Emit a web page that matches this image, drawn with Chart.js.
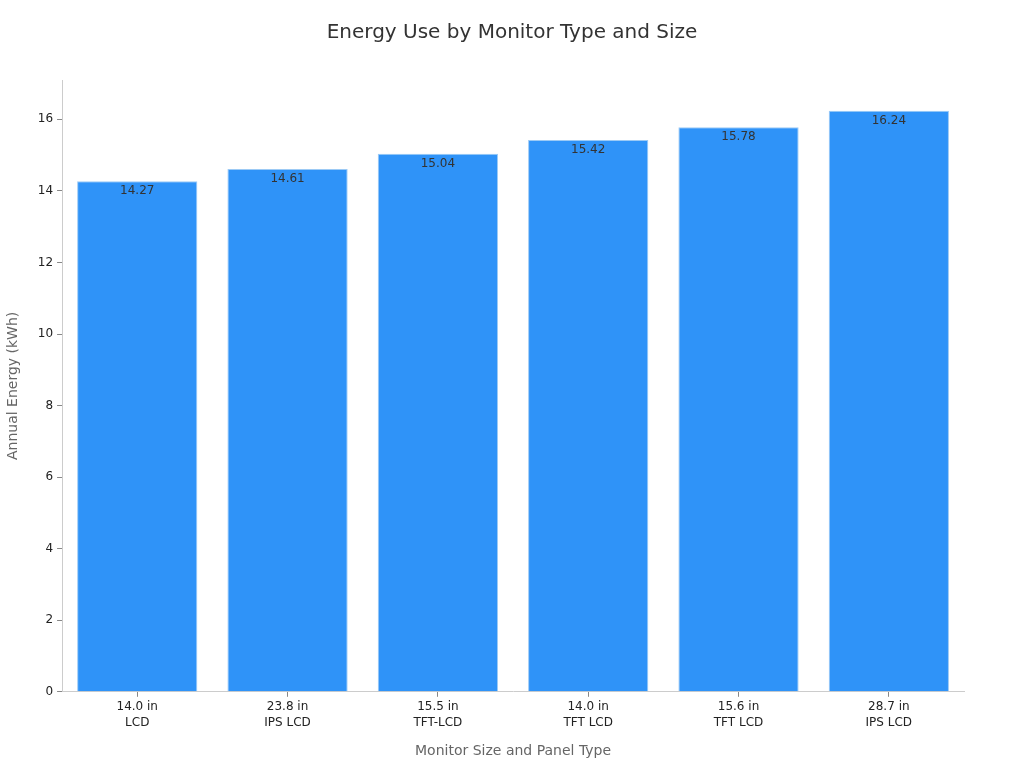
<!DOCTYPE html>
<html>
<head>
<meta charset="utf-8">
<script src="https://cdn.jsdelivr.net/npm/chart.js@4"></script>
<style>
  html, body { margin: 0; padding: 0; background: #fff; }
  #wrap { width: 1024px; height: 768px; }
</style>
</head>
<body>
<div id="wrap"><canvas id="energyChart"></canvas></div>
<script>
// Chart data
const chartTitle = 'Energy Use by Monitor Type and Size';
const sizes = ['14.0 in', '23.8 in', '15.5 in', '14.0 in', '15.6 in', '28.7 in'];
const panels = ['LCD', 'IPS LCD', 'TFT-LCD', 'TFT LCD', 'TFT LCD', 'IPS LCD'];
const annualEnergy = [14.27, 14.61, 15.04, 15.42, 15.78, 16.24];

const labels = sizes.map((s, i) => [s, panels[i]]);

// Value labels just inside the top of each bar
const valueLabels = {
    id: 'valueLabels',
    afterDatasetsDraw(chart) {
        const ctx = chart.ctx;
        const meta = chart.getDatasetMeta(0);
        ctx.save();
        ctx.font = '12px "DejaVu Sans", sans-serif';
        ctx.fillStyle = '#333';
        ctx.textAlign = 'center';
        ctx.textBaseline = 'middle';
        meta.data.forEach((bar, i) => {
            ctx.fillText(annualEnergy[i].toFixed(2), bar.x, bar.y + 10);
        });
        ctx.restore();
    }
};

// Title centred on the whole canvas (the built-in one ignores the right padding)
const pageTitle = {
    id: 'pageTitle',
    afterDraw(chart) {
        const ctx = chart.ctx;
        ctx.save();
        ctx.font = '20px "DejaVu Sans", sans-serif';
        ctx.fillStyle = '#333';
        ctx.textAlign = 'center';
        ctx.textBaseline = 'middle';
        ctx.fillText(chartTitle, chart.width / 2, 33);
        ctx.restore();
    }
};

function initChart() {
    const ctx = document.getElementById('energyChart').getContext('2d');
    new Chart(ctx, {
        type: 'bar',
        data: {
            labels: labels,
            datasets: [{
                data: annualEnergy,
                backgroundColor: '#2f93f8',
                borderColor: '#9ccaf5',
                borderWidth: 1,
                barPercentage: 0.8,
                categoryPercentage: 1.0
            }]
        },
        options: {
            responsive: true,
            maintainAspectRatio: false,
            animation: false,
            layout: { padding: { left: 5, right: 60, top: 80, bottom: 4 } },
            scales: {
                y: {
                    min: 0,
                    max: 17.1,
                    ticks: {
                        stepSize: 2,
                        color: '#222',
                        font: { family: 'DejaVu Sans', size: 12 },
                        padding: 4,
                        callback: v => (v % 2 === 0 ? v : null)
                    },
                    grid: { drawOnChartArea: false, drawTicks: true, tickLength: 5, color: '#888' },
                    border: { color: '#ccc' },
                    title: {
                        display: true,
                        text: 'Annual Energy (kWh)',
                        color: '#666',
                        font: { family: 'DejaVu Sans', size: 14 },
                        padding: { top: 0, bottom: 12 }
                    }
                },
                x: {
                    ticks: {
                        color: '#222',
                        font: { family: 'DejaVu Sans', size: 12, lineHeight: 1.35 },
                        padding: 2
                    },
                    grid: { drawOnChartArea: false, drawTicks: true, tickLength: 5, offset: false, color: '#888' },
                    border: { color: '#ccc' },
                    title: {
                        display: true,
                        text: 'Monitor Size and Panel Type',
                        color: '#666',
                        font: { family: 'DejaVu Sans', size: 14 },
                        padding: { top: 10 }
                    }
                }
            },
            plugins: {
                legend: { display: false },
                tooltip: { enabled: false },
                title: { display: false }
            }
        },
        plugins: [valueLabels, pageTitle]
    });
}

document.addEventListener('DOMContentLoaded', initChart);
</script>
</body>
</html>
